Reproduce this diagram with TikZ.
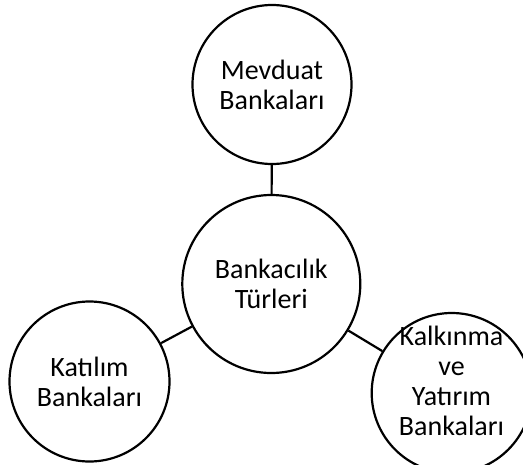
\documentclass[tikz,border=0pt]{standalone}
\usepackage{fontspec}
\setmainfont{Carlito}
\begin{document}
\begin{tikzpicture}[x=1pt,y=-1pt,
  bubble/.style={draw=black,line width=2.2pt,circle,inner sep=0pt,fill=white},
  caption/.style={align=center,inner sep=0pt,font=\fontsize{28}{30}\selectfont},
  link/.style={line width=2.2pt}]
  \useasboundingbox (0,0) rectangle (523,464);
  % circles
  \node[bubble,minimum size=178pt] (hub) at (271.3,284) {};
  \node[bubble,minimum size=159pt] (mev) at (272,84.5) {};
  \node[bubble,minimum size=160pt] (kat) at (89.5,381.5) {};
  \node[bubble,minimum size=160pt] (kal) at (451.7,393) {};
  % connectors
  \draw[link] (hub) -- (mev);
  \draw[link] (hub) -- (kat);
  \draw[link] (hub) -- (kal);
  % texts
  \node[caption] (thub) at (271.3,284) {Bankacılık\\Türleri};
  \node[caption] (tmev) at (272,84.5) {Mevduat\\Bankaları};
  \node[caption] (tkat) at (89.5,381.5) {Katılım\\Bankaları};
  \node[caption] (tkal) at (451.5,381) {Kalkınma\\ve\\Yatırım\\Bankaları};
\end{tikzpicture}
\end{document}
